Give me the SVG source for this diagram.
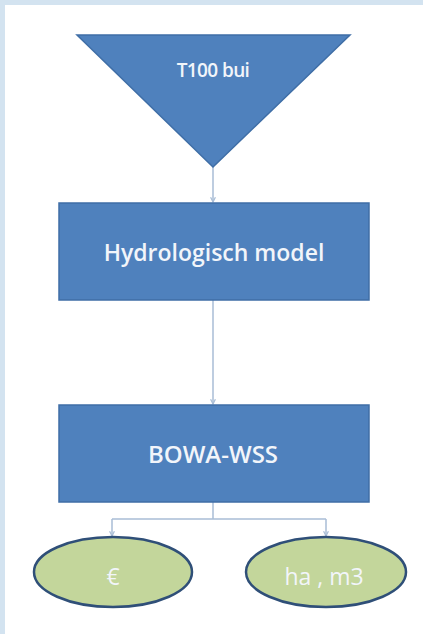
<svg xmlns="http://www.w3.org/2000/svg" width="423" height="634" viewBox="0 0 423 634">
<defs>
<style>
.box{fill:#4f81bd;stroke:#3f6ea6;stroke-width:1.5}
.oval{fill:#c3d69b;stroke:#2f4f78;stroke-width:2.5}
.lbl{font-family:"Open Sans","Liberation Sans",sans-serif;fill:#f2f5fa;text-anchor:middle}
.con{fill:none;stroke:#a9bdd6;stroke-width:1.5}
</style>
<marker id="ah" viewBox="0 0 10 10" refX="9" refY="5" markerWidth="6" markerHeight="6" orient="auto" markerUnits="userSpaceOnUse">
<path d="M1,1 L9,5 L1,9" fill="none" stroke="#a9bdd6" stroke-width="2"/>
</marker>
</defs>
<rect x="0" y="0" width="423" height="634" fill="#ffffff"/>
<rect x="0" y="0" width="423" height="5" fill="#d3e3f0"/>
<rect x="0" y="0" width="5" height="634" fill="#d3e3f0"/>
<g id="connectors">
<path class="con" d="M213,167 V202" marker-end="url(#ah)"/>
<path class="con" d="M213,300 V404" marker-end="url(#ah)"/>
<path class="con" d="M213,502 V519"/>
<path class="con" d="M112,519 H326"/>
<path class="con" d="M112,519 V536" marker-end="url(#ah)"/>
<path class="con" d="M326,519 V536" marker-end="url(#ah)"/>
</g>
<g id="t100">
<polygon class="box" points="77,35 350,35 213,167"/>
<text class="lbl" x="213" y="77" font-size="19" font-weight="600" letter-spacing="-0.6">T100 bui</text>
</g>
<g id="hydro">
<rect class="box" x="59" y="203" width="310" height="97"/>
<text class="lbl" x="214" y="261" font-size="23" font-weight="600">Hydrologisch model</text>
</g>
<g id="bowa">
<rect class="box" x="59" y="405" width="310" height="97"/>
<text class="lbl" x="213" y="463" font-size="24" font-weight="600">BOWA-WSS</text>
</g>
<g id="euro">
<ellipse class="oval" cx="113" cy="572" rx="79" ry="35"/>
<text class="lbl" x="113" y="585" font-size="23">€</text>
</g>
<g id="ham3">
<ellipse class="oval" cx="326" cy="572" rx="80" ry="35"/>
<text class="lbl" x="324" y="585" font-size="23">ha , m3</text>
</g>
</svg>
